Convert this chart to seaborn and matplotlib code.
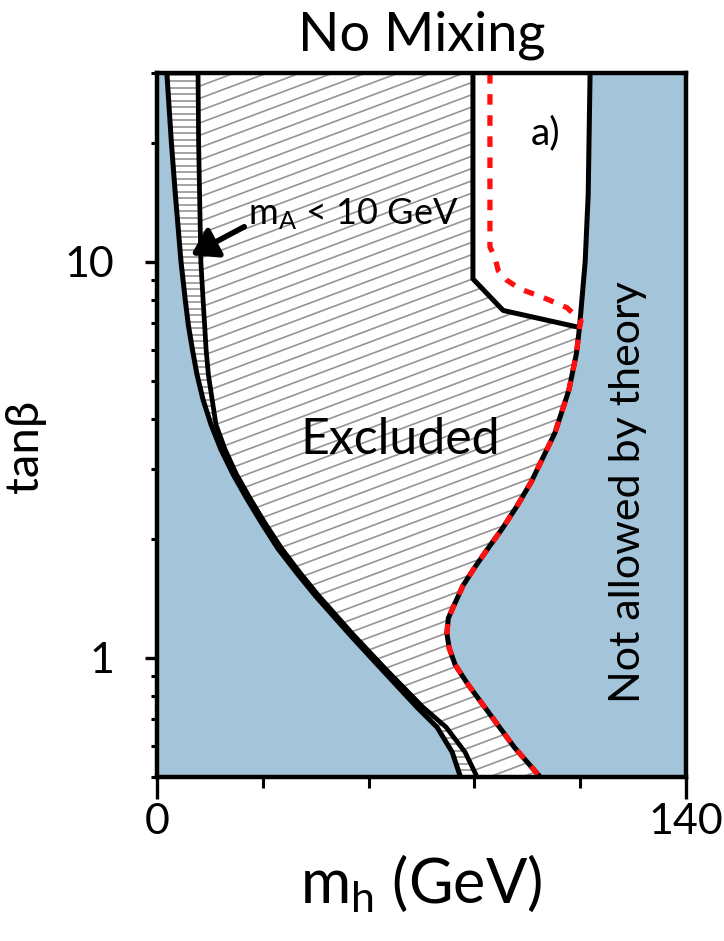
import numpy as np
import matplotlib
matplotlib.use("Agg")
import matplotlib.pyplot as plt
import seaborn as sns
from matplotlib.collections import LineCollection
from matplotlib.ticker import NullFormatter, LogLocator

# ---------------- data (m_h in GeV, tan beta) ----------------
XMIN, XMAX = 0, 140
YMIN, YMAX = 0.5, 30

# outer boundary of the left "not allowed" region and m_A < 10 GeV band
tb_L = [0.5, 0.578, 0.668, 0.75, 0.928, 1.142, 1.438, 1.633, 1.887, 2.18,
        2.52, 2.91, 3.36, 3.88, 4.48, 5.18, 5.98, 6.91, 7.97, 10.0, 14.98,
        20.0, 30]
mh_L1 = [80.3, 78.1, 74.1, 68.8, 59.8, 51.1, 41.8, 37.1, 32.0, 27.8,
         23.8, 20.1, 16.9, 14.3, 12.2, 10.6, 9.4, 8.3, 7.5, 6.35, 4.8,
         3.8, 2.6]
mh_L2 = [84.7, 81.5, 76.5, 70.4, 60.9, 52.0, 42.7, 38.0, 33.0, 28.7,
         24.7, 21.0, 18.0, 15.6, 14.6, 13.6, 13.0, 12.6, 12.2, 11.6, 11.25,
         11.0, 10.85]

# theoretical upper limit on m_h (right boundary)
tb_R = [0.5, 0.595, 0.72, 0.856, 0.96, 1.059, 1.155, 1.26, 1.358, 1.524,
        1.71, 1.92, 2.115, 2.42, 2.78, 3.70, 4.75, 5.88, 6.83, 10.0, 14.8, 30]
mh_R = [101.4, 94.5, 88.1, 82.3, 78.9, 77.3, 76.7, 77.1, 78.6, 81.0,
        84.4, 88.1, 91.3, 95.3, 99.0, 105.3, 109.0, 111.0, 111.8, 113.3,
        114.1, 114.6]

# allowed (white) pocket boundary
pocket_mh = [83.6, 83.6, 91.6, 111.8]
pocket_tb = [30, 9.06, 7.54, 6.83]

# red dotted limit inside the pocket
red_mh = [88.1, 88.1, 89.4, 90.3, 92.5, 96.1, 102.2, 108.5, 112.2]
red_tb = [30, 10.9, 10.3, 9.5, 9.0, 8.54, 8.13, 7.66, 7.1]

x_major = [0, 140]
x_minor = [28, 56, 84, 112]
y_major = [1, 10]

BLUE = "#a3c4d9"
HATCH = "#959595"

# ---------------- style ----------------
sns.set_theme(style="ticks")
plt.rcParams["font.family"] = ["Lato", "DejaVu Sans"]
plt.rcParams["mathtext.default"] = "regular"

W_IN, H_IN, DPI = 7.24, 9.41, 100
fig = plt.figure(figsize=(W_IN, H_IN), dpi=DPI, facecolor="white")
ax_pos = [0.2169, 0.1743, 0.7307, 0.7481]
ax = fig.add_axes(ax_pos)
ax.set_facecolor("white")
ax.set_yscale("log")
ax.set_xlim(XMIN, XMAX)
ax.set_ylim(YMIN, YMAX)

ax_w_px = ax_pos[2] * W_IN * DPI
ax_h_px = ax_pos[3] * H_IN * DPI


def hatch(patch, slope_px, spacing_px, color=HATCH, lw=1.0):
    s = slope_px * ax_w_px / ax_h_px
    step = spacing_px / ax_h_px
    cs = np.arange(-s - step, 1 + step, step)
    segs = [[(0, c), (1, c + s)] for c in cs]
    lc = LineCollection(segs, transform=ax.transAxes, colors=color,
                        linewidths=lw, zorder=1.2)
    lc.set_clip_path(patch)
    ax.add_collection(lc)


# left blue region
ax.fill([XMIN] + mh_L1 + [XMIN], [YMIN] + tb_L + [YMAX],
        color=BLUE, lw=0, zorder=1)

# m_A < 10 GeV band (horizontal hatch)
band = ax.fill(mh_L1 + mh_L2[::-1], tb_L + tb_L[::-1],
               facecolor="white", lw=0, zorder=1)[0]
hatch(band, 0.0, 6.5, color="#8a8a8a", lw=1.1)

# excluded region (diagonal hatch)
r_low = [(m, t) for m, t in zip(mh_R, tb_R) if t < pocket_tb[-1]][::-1]
ex_x = mh_L2 + pocket_mh + [m for m, _ in r_low]
ex_y = tb_L + pocket_tb + [t for _, t in r_low]
excl = ax.fill(ex_x, ex_y, facecolor="white", lw=0, zorder=1)[0]
hatch(excl, 0.375, 12.3, lw=1.2)

# right blue region
ax.fill(mh_R + [XMAX, XMAX], tb_R + [YMAX, YMIN], color=BLUE, lw=0, zorder=1)

# ---------------- boundary lines ----------------
LW = 3.6
kw = dict(sort=False, estimator=None, legend=False, ax=ax, color="black")
sns.lineplot(x=mh_L1, y=tb_L, lw=LW, **kw)
sns.lineplot(x=mh_L2, y=tb_L, lw=LW * 0.95, **kw)
sns.lineplot(x=mh_R, y=tb_R, lw=LW, **kw)
sns.lineplot(x=pocket_mh, y=pocket_tb, lw=LW, **kw)

red_x = red_mh + [m for m, t in zip(mh_R, tb_R) if t < red_tb[-1]][::-1]
red_y = red_tb + [t for t in tb_R if t < red_tb[-1]][::-1]
ax.plot(red_x, red_y, color="#ff1010", lw=3.8, ls=(0, (2.0, 2.0)),
        dash_capstyle="butt", zorder=3)

# ---------------- axes decoration ----------------
for sp in ax.spines.values():
    sp.set_linewidth(3.2)
    sp.set_color("black")
    sp.set_zorder(5)

ax.set_xticks(x_major)
ax.set_xticklabels([str(v) for v in x_major])
ax.set_xticks(x_minor, minor=True)
ax.set_yticks(y_major)
ax.set_yticklabels([str(v) for v in y_major])
ax.yaxis.set_minor_locator(LogLocator(base=10, subs=np.arange(2, 10)))
ax.yaxis.set_minor_formatter(NullFormatter())

ax.tick_params(axis="x", which="major", direction="out", length=16, width=2.4,
               pad=3, labelsize=31, colors="black")
ax.tick_params(axis="x", which="minor", direction="out", length=8, width=2.2,
               colors="black")
ax.tick_params(axis="y", which="major", direction="out", length=9, width=2.4,
               pad=22, labelsize=31, colors="black")
ax.tick_params(axis="y", which="minor", direction="out", length=4.5, width=2.2,
               colors="black")

ax.set_title("No Mixing", fontsize=39, pad=16, color="black")
ax.set_xlabel("m$_h$ (GeV)", fontsize=44, labelpad=8, color="black")
ax.set_ylabel("tanβ", fontsize=34, labelpad=10, color="black")
ax.yaxis.set_label_coords(-0.21, 0.47)

ax.text(0.459, 0.479, "Excluded", transform=ax.transAxes, fontsize=36,
        ha="center", va="center", color="black", zorder=6)
ax.text(0.890, 0.405, "Not allowed by theory", transform=ax.transAxes,
        fontsize=31, rotation=90, ha="center", va="center", color="black",
        zorder=6)
ax.text(0.735, 0.914, "a)", transform=ax.transAxes, fontsize=28,
        ha="center", va="center", color="black", zorder=6)
ax.annotate("m$_A$ < 10 GeV", xy=(9.0, 10.4), xycoords="data",
            xytext=(0.37, 0.80), textcoords="axes fraction",
            ha="center", va="center", fontsize=26, color="black", zorder=6,
            arrowprops=dict(arrowstyle="-|>,head_length=0.7,head_width=0.45",
                            lw=4, color="black", shrinkA=0, shrinkB=0,
                            mutation_scale=22, relpos=(0.02, 0.25)))

fig.savefig("out.png", dpi=DPI, facecolor="white")
